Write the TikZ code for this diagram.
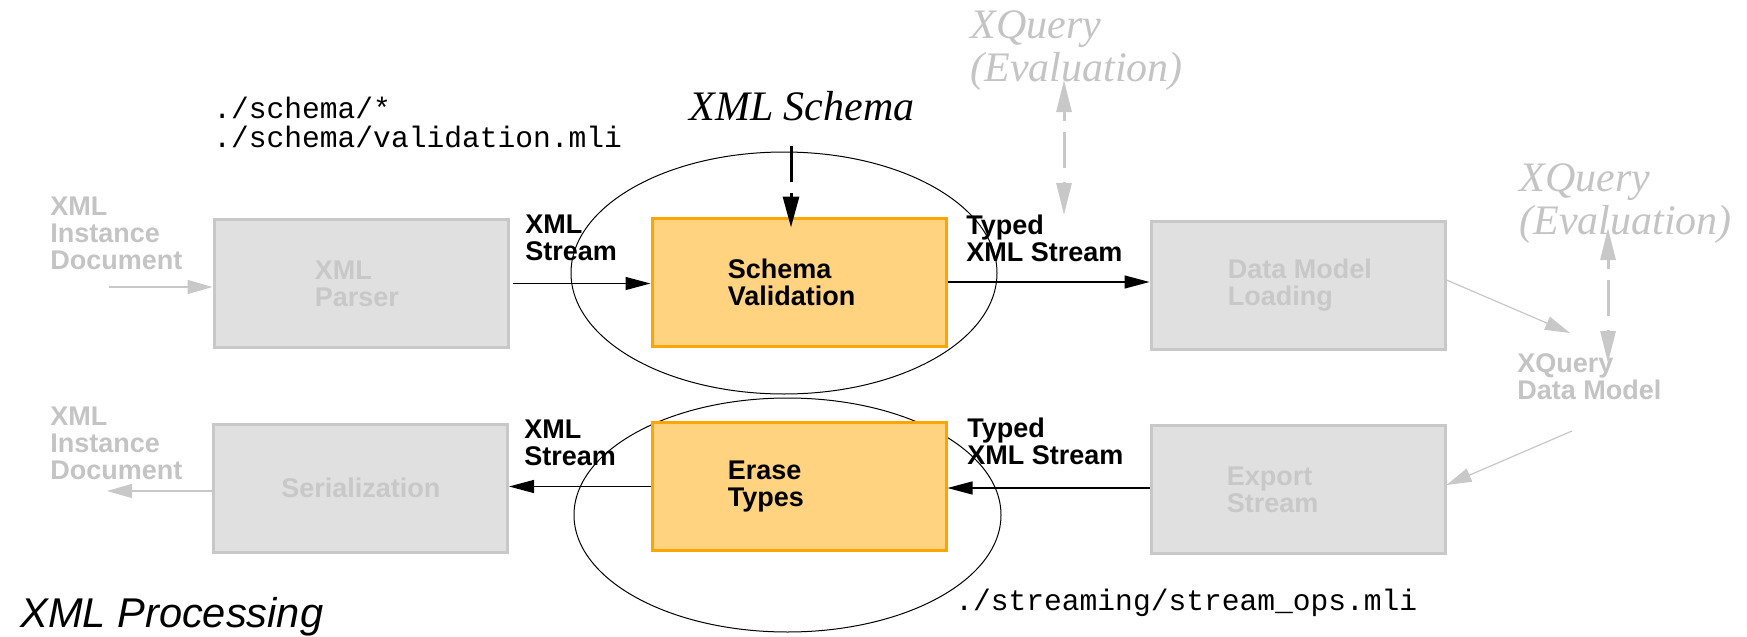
\documentclass[tikz,border=0pt]{standalone}
\usepackage{fontspec}
\setmainfont{Liberation Serif}
\setsansfont{Liberation Sans}
\setmonofont{Liberation Mono}
\usetikzlibrary{arrows.meta}

\definecolor{boxfill}{HTML}{E0E0E0}
\definecolor{boxedge}{HTML}{C8C8C8}
\definecolor{fadetext}{HTML}{C4C4C4}
\definecolor{stagefill}{HTML}{FFD37F}
\definecolor{stageedge}{HTML}{FFA500}

\begin{document}
\begin{tikzpicture}[x=0.5pt,y=-0.5pt,
  fadedbox/.style={draw=boxedge, fill=boxfill, line width=1.5pt,
    minimum width=147pt, minimum height=64pt, inner sep=0pt},
  stagebox/.style={draw=stageedge, fill=stagefill, line width=1.5pt,
    minimum width=147pt, minimum height=64pt, inner sep=0pt},
  boldtext/.style={font={\fontsize{13.5pt}{13.5pt}\selectfont\sffamily\bfseries},
    align=left, inner sep=0pt},
  flowlabel/.style={boldtext, anchor=north west},
  fadedlabel/.style={boldtext, anchor=north west, text=fadetext},
  boxlabel/.style={boldtext, anchor=west},
  fadedboxlabel/.style={boldtext, anchor=west, text=boxedge},
  pathtext/.style={font={\fontsize{14.8pt}{14.5pt}\selectfont\ttfamily},
    align=left, inner sep=0pt},
  evaltext/.style={font={\fontsize{21pt}{21.5pt}\selectfont\rmfamily\itshape},
    align=left, inner sep=0pt, anchor=north west, text=fadetext},
  flow/.style={line width=0.6pt, -{Triangle[length=12.5pt,width=6.5pt]}},
  fadedflow/.style={draw=boxedge, line width=0.6pt,
    -{Triangle[length=12.5pt,width=7pt]}},
  evalflow/.style={draw=boxedge, line width=1.5pt,
    {Triangle[length=16pt,width=7.5pt]}-{Triangle[length=16pt,width=7.5pt]},
    dash pattern=on 5pt off 5.5pt on 18pt off 7pt},
  group/.style={line width=0.5pt}
]
\useasboundingbox[fill=white] (0,0) rectangle (1747,637);

% grouping of the typed stages
\draw[group] (784,273) ellipse [x radius=106.5pt, y radius=60.5pt];
\draw[group] (787.5,515) ellipse [x radius=106.75pt, y radius=58.5pt];

% processing boxes
\node[fadedbox] (parser) at (361,283.5) {};
\node[stagebox] (valid) at (799,282) {};
\node[fadedbox] (load) at (1298,285) {};
\node[fadedbox] (serial) at (360.5,488) {};
\node[stagebox] (erase) at (799,486.5) {};
\node[fadedbox] (export) at (1298,489.5) {};

\node[fadedboxlabel] (parsert) at ([xshift=51pt]parser.west) {XML\\Parser};
\node[boxlabel] (validt) at ([xshift=38.5pt]valid.west) {Schema\\Validation};
\node[fadedboxlabel] (loadt) at ([xshift=39pt]load.west) {Data Model\\Loading};
\node[fadedboxlabel] (serialt) at ([xshift=34.5pt]serial.west) {Serialization};
\node[boxlabel] (eraset) at ([xshift=38.5pt]erase.west) {Erase\\Types};
\node[fadedboxlabel] (exportt) at ([xshift=38.5pt]export.west) {Export\\Stream};

% outer documents and data model
\node[fadedlabel] (docin) at (50,197) {XML\\Instance\\Document};
\node[fadedlabel] (docout) at (50,407) {XML\\Instance\\Document};
\node[fadedlabel] (xdm) at (1517,353) {XQuery\\Data Model};

% stream labels
\node[flowlabel] (s1) at (525,215) {XML\\Stream};
\node[flowlabel] (s2) at (966,215) {Typed\\XML Stream};
\node[flowlabel] (s3) at (524,420) {XML\\Stream};
\node[flowlabel] (s4) at (967,418) {Typed\\XML Stream};

% source files
\node[pathtext, anchor=north west] (schemasrc) at (213,97) {./schema/*\\./schema/validation.mli};
\node[pathtext, anchor=base west] (streamsrc) at (955,610) {./streaming/stream\_ops.mli};

% schema input and evaluation
\node[font={\fontsize{21pt}{21pt}\selectfont\rmfamily\itshape}, inner sep=0pt,
  anchor=base west] (schema) at (689,120) {XML Schema};
\node[evaltext] (eval1) at (970,10) {XQuery\\(Evaluation)};
\node[evaltext] (eval2) at (1519,163) {XQuery\\(Evaluation)};

\node[font={\fontsize{20.8pt}{20.8pt}\selectfont\sffamily\itshape}, inner sep=0pt,
  anchor=base west] (title) at (20,627) {XML Processing};

% connector end points
\coordinate (inend) at (109,287);
\coordinate (outend) at (107,491);
\coordinate (schemaend) at (791,146);
\coordinate (e1top) at (1064,80);
\coordinate (e1bot) at (1064,215);
\coordinate (e2top) at (1608,228);
\coordinate (e2bot) at (1608,363);
\coordinate (xdmin) at (1570,333);
\coordinate (xdmout) at (1572,431);

% top row
\draw[fadedflow] (inend) -- (inend -| parser.west);
\draw[flow] ([xshift=1.5pt]parser.east) -- (parser.east -| valid.west);
\draw[flow] (valid.east) -- (valid.east -| load.west);
\draw[fadedflow] ([yshift=2.5pt]load.east) -- (xdmin);

% bottom row
\draw[fadedflow] (xdmout) -- ([yshift=2.25pt]export.east);
\draw[flow] ([yshift=0.75pt]export.west) -- ([yshift=0.75pt]export.west -| erase.east);
\draw[flow] (erase.west) -- (erase.west -| serial.east);
\draw[fadedflow] ([yshift=-1.5pt]serial.west) -- (outend);

% schema and evaluation links
\draw[line width=1.5pt, dash pattern=on 18pt off 5.5pt,
  -{Triangle[length=15.5pt,width=8pt]}, shorten >=-5.5pt]
  (schemaend) -- (schemaend |- valid.north);
\draw[evalflow] (e1top) -- (e1bot);
\draw[evalflow] (e2top) -- (e2bot);
\end{tikzpicture}
\end{document}
